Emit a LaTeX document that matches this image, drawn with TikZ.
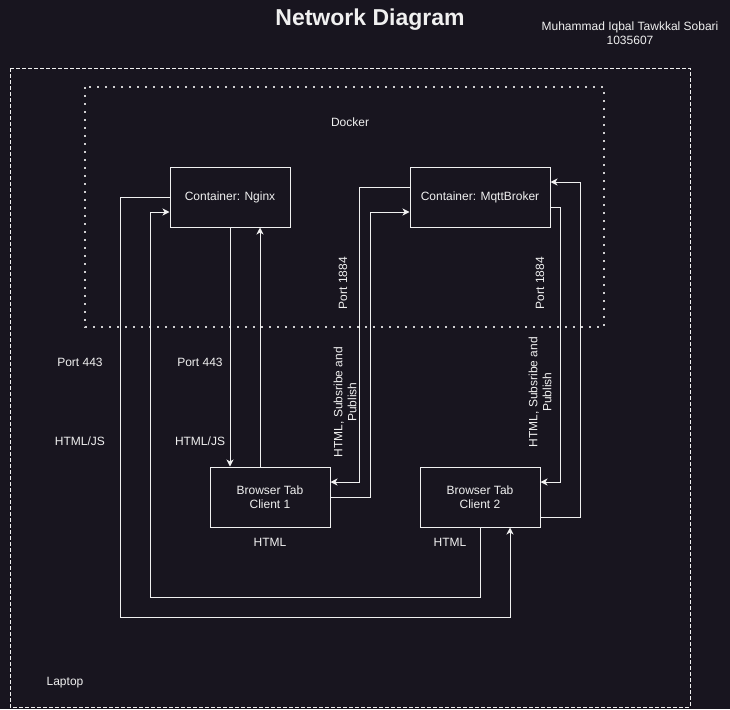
\documentclass[tikz,border=0pt]{standalone}
\usepackage{fontspec}
\setmainfont{Liberation Sans}
\usepackage{tikz}
\usetikzlibrary{arrows.meta}
\definecolor{bg}{RGB}{24,21,31}
\definecolor{fg}{RGB}{240,240,240}

\begin{document}
\begin{tikzpicture}[x=1pt, y=-1pt, font=\fontsize{12}{14}\selectfont, text=fg,
  box/.style={rectangle, draw=fg, line width=1pt, minimum width=120pt, minimum height=60pt, inner sep=0pt, align=center},
  lbl/.style={inner sep=0pt, align=center},
  link/.style={draw=fg, line width=1pt, -{Stealth[length=7pt, width=7pt, inset=2pt]}}]
  \fill[bg] (0,0) rectangle (730,709);
  \useasboundingbox (0,0) rectangle (730,709);
  \draw[fg, line width=1pt, dash pattern=on 4pt off 2pt] (10,68) rectangle (690,707);
  \draw[fg!85!bg, line width=2pt, dash pattern=on 2pt off 6pt] (85,87) rectangle (604,327);
  \node (title) [lbl, font=\fontsize{23}{26}\selectfont\bfseries] at (370,20) {Network Diagram};
  \node (author) [lbl] at (630,33) {Muhammad Iqbal Tawkkal Sobari\\1035607};
  \node (docker) [lbl] at (350,122) {Docker};
  \node (laptop) [lbl] at (65,683) {Laptop};
  \node (nginx) [box] at (230,197) {Container: Nginx};
  \node (mqtt) [box, minimum width=140pt] at (480,197) {Container: MqttBroker};
  \node (c1) [box] at (270,497) {Browser Tab\\Client 1};
  \node (c2) [box] at (480,497) {Browser Tab\\Client 2};
  \node (html1) [lbl] at (270,542) {HTML};
  \node (html2) [lbl] at (450,542) {HTML};
  \node (porta) [lbl] at (80,362) {Port 443};
  \node (portb) [lbl] at (200,362) {Port 443};
  \node (jsa) [lbl] at (80,441) {HTML/JS};
  \node (jsb) [lbl] at (200,441) {HTML/JS};
  \node (mqa) [lbl, rotate=90] at (343,283) {Port 1884};
  \node (mqb) [lbl, rotate=90] at (540,283) {Port 1884};
  \node (suba) [lbl, rotate=90] at (345,402) {HTML, Subsribe and\\Publish};
  \node (subb) [lbl, rotate=90] at (540,392) {HTML, Subsribe and\\Publish};
  \draw[link] (nginx.west) -- (120,197) -- (120,617) -| ([xshift=30pt]c2.south);
  \draw[link] (c2.south) |- (150,597) |- ([yshift=-15pt]nginx.west);
  \draw[link] (nginx.south) -- (nginx.south |- c1.north);
  \draw[link] ([xshift=-10pt]c1.north) -- ([xshift=-10pt]c1.north |- nginx.south);
  \draw[link] ([yshift=10pt]mqtt.west) -- ++(-50,0) |- ([yshift=15pt]c1.east);
  \draw[link] (c1.east) -- ++(40,0) |- ([yshift=-15pt]mqtt.west);
  \draw[link] ([yshift=-10pt]mqtt.east) -- ++(10,0) |- ([yshift=15pt]c2.east);
  \draw[link] ([yshift=-20pt]c2.east) -- ++(40,0) |- ([yshift=15pt]mqtt.east);
\end{tikzpicture}
\end{document}
